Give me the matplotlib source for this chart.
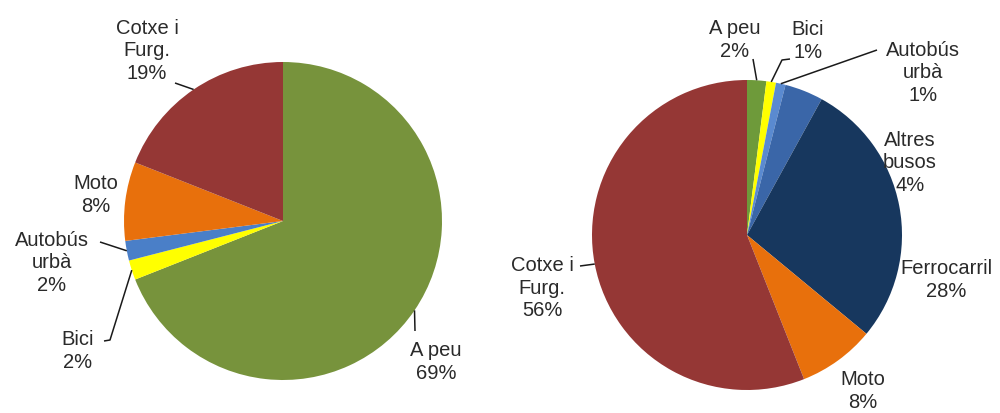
import numpy as np
import matplotlib
matplotlib.use("Agg")
import matplotlib.pyplot as plt

# ---- data ----
left_labels = ["A peu", "Bici", "Autobús\nurbà", "Moto", "Cotxe i\nFurg."]
left_values = [69, 2, 2, 8, 19]
left_colors = ["#77933C", "#FFFF00", "#4A7FC8", "#E8700C", "#953735"]

right_labels = ["A peu", "Bici", "Autobús\nurbà", "Altres\nbusos", "Ferrocarril", "Moto", "Cotxe i\nFurg."]
right_values = [2, 1, 1, 4, 28, 8, 56]
right_colors = ["#6E9A3A", "#FFFF00", "#5A8AD0", "#3A66A8", "#17375E", "#E8700C", "#953735"]

W, H = 1000, 413
plt.rcParams['font.family'] = ['Liberation Sans', 'DejaVu Sans']

fig = plt.figure(figsize=(W / 100, H / 100), dpi=100)
ax = fig.add_axes([0, 0, 1, 1])

def Y(y):
    return H - y

TXT = dict(fontsize=14.5, color="#2a2a2a", ha="center", va="center", linespacing=1.22)


def draw_pie(values, colors, cx, cy, r):
    wedges, _ = ax.pie(values, colors=colors, startangle=90, counterclock=False,
                       center=(cx, Y(cy)), radius=r,
                       wedgeprops=dict(linewidth=0))
    return wedges


def edge_point(w, frac=1.0):
    ang = np.deg2rad((w.theta1 + w.theta2) / 2)
    cx, cy = w.center
    return cx + w.r * frac * np.cos(ang), cy + w.r * frac * np.sin(ang)


def label(text, x, y, value):
    ax.text(x, Y(y), f"{text}\n{value}%", **TXT)


def leader(pts_px, w):
    ex, ey = edge_point(w)
    xs = [p[0] for p in pts_px] + [ex]
    ys = [Y(p[1]) for p in pts_px] + [ey]
    ax.plot(xs, ys, color="#1a1a1a", lw=1.1, solid_capstyle="butt")


# left pie
lw_ = draw_pie(left_values, left_colors, 283, 221, 159)
label(left_labels[0], 436, 362, left_values[0])
leader([(415, 331)], lw_[0])
label(left_labels[1], 78, 351, left_values[1])
leader([(104, 341), (110, 340)], lw_[1])
label(left_labels[2], 52, 263, left_values[2])
leader([(100, 242)], lw_[2])
label(left_labels[3], 96, 195, left_values[3])
label(left_labels[4], 147, 51, left_values[4])
leader([(175, 83)], lw_[4])

# right pie
rw = draw_pie(right_values, right_colors, 747, 235, 155)
label(right_labels[0], 735, 40, right_values[0])
leader([(753, 59)], rw[0])
label(right_labels[1], 808, 41, right_values[1])
leader([(790, 59), (782, 60)], rw[1])
label(right_labels[2], 923, 73, right_values[2])
leader([(877, 50)], rw[2])
label(right_labels[3], 910, 163, right_values[3])
label(right_labels[4], 946, 280, right_values[4])
label(right_labels[5], 863, 391, right_values[5])
label(right_labels[6], 542, 288, right_values[6])
leader([(580, 266)], rw[6])

ax.set_xlim(0, W)
ax.set_ylim(0, H)
ax.set_aspect("auto")
ax.axis("off")

fig.savefig("out.png", dpi=100)
